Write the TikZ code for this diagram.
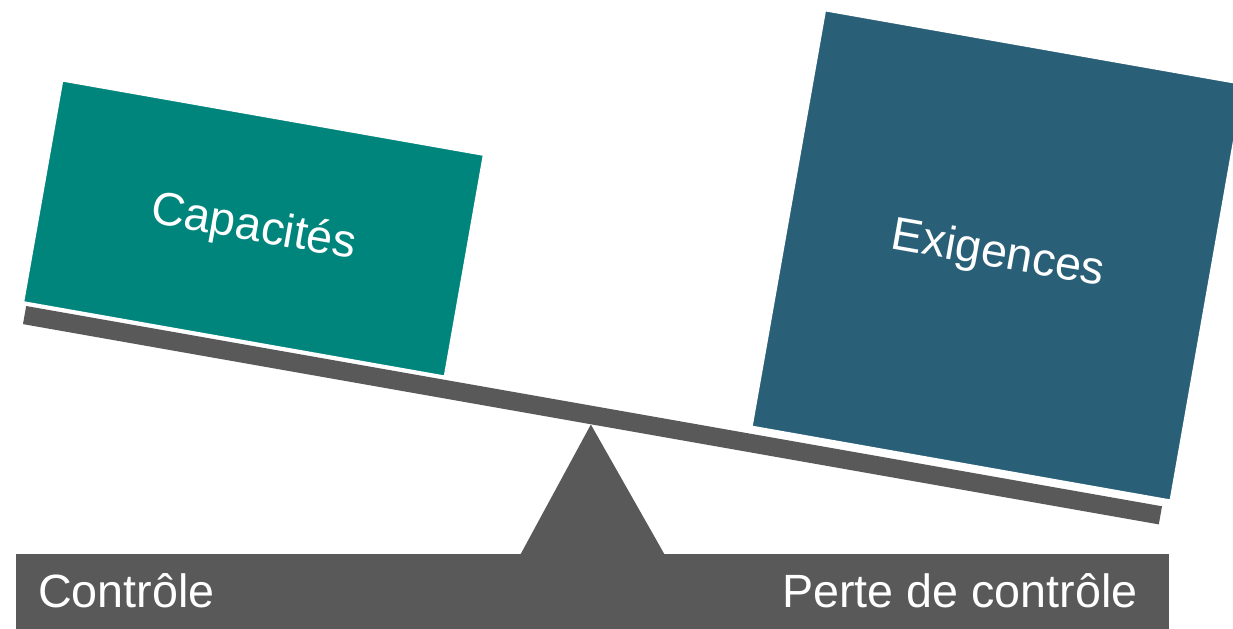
\documentclass[tikz,border=0pt]{standalone}
\usepackage{fontspec}
\setmainfont{Liberation Sans}
\usetikzlibrary{positioning}

\definecolor{capgreen}{RGB}{0,133,124}
\definecolor{exiblue}{RGB}{41,96,120}
\definecolor{scalegray}{RGB}{89,89,89}

\begin{document}
\begin{tikzpicture}[
  x=0.75pt, y=-0.75pt,
  every node/.style={align=center, font=\fontsize{35}{42}\selectfont},
  scalepart/.style={fill=scalegray, inner sep=0pt},
  weight/.style={rotate=-10, inner sep=0pt, text=white, draw=white, line width=1.5pt},
  barlabel/.style={text=white, inner sep=0pt}
]

% --- Frame
\useasboundingbox (0,0) rectangle (1233,629);
\clip (0,0) rectangle (1233,629);

% --- Beam, pivot and base
\node[scalepart, rotate=-10, minimum width=865pt, minimum height=13.8pt] (beam) at (592.5,415.2) {};
\node[scalepart, minimum width=864.75pt, minimum height=56.25pt] (base) at (592.5,591.5) {};
\fill[scalegray] (beam.south) -- (520.7,554) -- (664.3,554) -- cycle;

% --- Weights on the beam
\node[weight, fill=capgreen, minimum width=321pt, minimum height=168.75pt] (cap) at (253.5,228.5) {Capacités};
\node[weight, fill=exiblue, minimum width=319pt, minimum height=317pt] (exi) at (997.8,255.4) {Exigences};

% --- Base labels
\node[barlabel, anchor=base west] (ctrl) at (38,607) {Contrôle};
\node[barlabel, anchor=base east] (loss) at (1138,607) {Perte de contrôle};

\end{tikzpicture}
\end{document}
